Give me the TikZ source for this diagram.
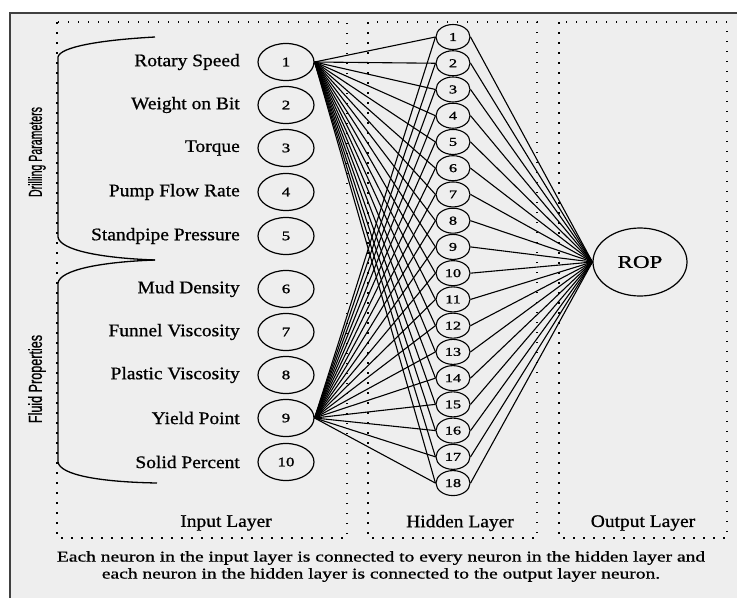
\documentclass[tikz,border=0pt]{standalone}
\usepackage{fontspec}
\setmainfont{Liberation Serif}
\newfontfamily\rfont{Liberation Serif}[FakeBold=0.8]
\newfontfamily\nfont{Liberation Serif}[FakeBold=1.2]
\newfontfamily\sfont{Liberation Sans}[FakeBold=0.8]
\usetikzlibrary{shapes.geometric}
\definecolor{bg}{HTML}{EEEEEE}
\definecolor{frame}{HTML}{404040}
\newcommand{\hs}[2]{\scalebox{#1}[1]{#2}}
\begin{document}
\begin{tikzpicture}[x=1pt,y=-1pt,
  inp/.style={ellipse,draw,line width=1.2pt,minimum width=56pt,minimum height=37pt,inner sep=0pt,font=\nfont\fontsize{13}{13}\selectfont},
  hid/.style={ellipse,draw,line width=1.1pt,minimum width=34pt,minimum height=25pt,inner sep=0pt,font=\nfont\fontsize{12}{12}\selectfont},
  outp/.style={ellipse,draw,line width=1.2pt,minimum width=94pt,minimum height=68pt,inner sep=0pt,font=\rfont\fontsize{18}{18}\selectfont},
  lbl/.style={anchor=east,inner sep=0pt,font=\rfont\fontsize{17.7}{18}\selectfont},
  layerlbl/.style={inner sep=0pt,font=\rfont\fontsize{17.7}{18}\selectfont},
  caplbl/.style={inner sep=0pt,font=\rfont\fontsize{15}{15}\selectfont},
  rotlbl/.style={rotate=90,inner sep=0pt,font=\sfont\fontsize{16.8}{17}\selectfont},
  layerbox/.style={draw=black,line width=1.5pt,dash pattern=on 1.5pt off 8.5pt},
  conn/.style={line width=1.1pt},
  bracepath/.style={line width=1.3pt}
]
\useasboundingbox (0,0) rectangle (737,598);
\fill[white] (0,0) rectangle (737,598);
\fill[bg] (10,13) rectangle (737,598);
\draw[line width=2pt,frame] (10,598) -- (10,13) -- (737,13);

% layer boxes
\draw[layerbox] (57,22) rectangle (347,538);
\draw[layerbox] (368,22) rectangle (537,538);
\draw[layerbox] (559,22) rectangle (727,538);

% input neurons and labels
\foreach \i/\y/\t in {1/62/Rotary Speed,2/105/Weight on Bit,3/148/Torque,4/192/Pump Flow Rate,5/236/Standpipe Pressure,6/289/Mud Density,7/332/Funnel Viscosity,8/375/Plastic Viscosity,9/418/Yield Point,10/462/Solid Percent}{
  \node[inp] (in\i) at (286,\y) {\hs{1.3}{\i}};
  \node[lbl] (lb\i) at (240,\y) {\hs{1.1}{\t}};
}

% hidden neurons
\foreach \j in {1,...,18}{
  \node[hid] (h\j) at (453,{37+(\j-1)*26.24}) {\hs{1.35}{\j}};
}

% output
\node[outp] (rop) at (640,262) {\hs{1.28}{ROP}};

% connections
\foreach \j in {1,...,18}{
  \draw[conn] (in1.east) -- (h\j.west);
  \draw[conn] (in9.east) -- (h\j.west);
  \draw[conn] (h\j.east) -- (rop.west);
}

% braces
\draw[bracepath] (155,37) .. controls (100,40) and (60,47) .. (58,57) -- (58,237) .. controls (60,250) and (100,258) .. (155,260);
\draw[bracepath] (58,283) .. controls (60,270) and (100,262) .. (155,260);
\draw[bracepath] (58,283) -- (58,462) .. controls (60,475) and (100,482) .. (157,483);

% rotated labels
\node[rotlbl] (dp) at (37,152) {\scalebox{0.63}[1.12]{Drilling Parameters}};
\node[rotlbl] (fp) at (37,379) {\scalebox{0.75}[1.12]{Fluid Properties}};

% layer labels
\node[layerlbl] (il) at (226,523) {\hs{1.1}{Input Layer}};
\node[layerlbl] (hl) at (460,523) {\hs{1.1}{Hidden Layer}};
\node[layerlbl] (ol) at (643,523) {\hs{1.1}{Output Layer}};

% caption
\node[caplbl] (cap1) at (381,558) {\hs{1.3}{Each neuron in the input layer is connected to every neuron in the hidden layer and}};
\node[caplbl] (cap2) at (381,575) {\hs{1.3}{each neuron in the hidden layer is connected to the output layer neuron.}};
\end{tikzpicture}
\end{document}
